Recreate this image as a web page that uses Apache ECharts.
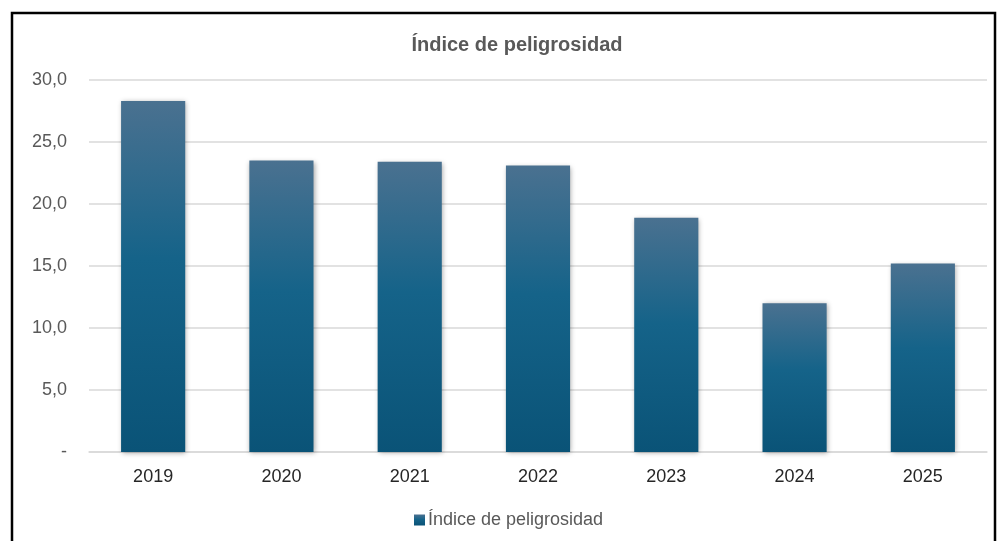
<!DOCTYPE html>
<html><head><meta charset="utf-8">
<script src="https://cdn.jsdelivr.net/npm/echarts@6/dist/echarts.min.js"></script>
<style>html,body{margin:0;padding:0;background:#fff}#c{width:997px;height:541px}</style>
</head><body><div id="c"></div>
<script>
var categories = ['2019','2020','2021','2022','2023','2024','2025'];
var values = [28.3, 23.5, 23.4, 23.1, 18.9, 12.0, 15.2];
var seriesName = 'Índice de peligrosidad';
var titleText = 'Índice de peligrosidad';

var chart = echarts.init(document.getElementById('c'));
var grad = new echarts.graphic.LinearGradient(0,0,0,1,[
  {offset:0,color:'#4a7190'},{offset:0.45,color:'#156389'},{offset:1,color:'#0a5377'}]);
chart.setOption({
  animation:false,
  textStyle:{fontFamily:'Liberation Sans, Arial, sans-serif'},
  graphic:[{type:'rect',shape:{x:12,y:13,width:983,height:560},style:{fill:'none',stroke:'#000',lineWidth:2.5},silent:true}],
  title:{text:titleText,left:512,textAlign:'center',top:30,textStyle:{fontSize:20,fontWeight:'bold',color:'#595959',fontFamily:'Liberation Sans, Arial, sans-serif'}},
  legend:{bottom:7,left:409,itemWidth:11,itemHeight:11,itemGap:4,icon:'rect',
    textStyle:{fontSize:18,color:'#595959',padding:[0,0,0,-2]},data:[seriesName]},
  grid:{left:89,right:10,top:80,bottom:89,containLabel:false},
  xAxis:{type:'category',data:categories,axisTick:{show:false},
    axisLine:{lineStyle:{color:'#d9d9d9',width:1.5}},
    axisLabel:{fontSize:18,color:'#262626',margin:16}},
  yAxis:{type:'value',min:0,max:30,interval:5,
    axisLine:{show:false},axisTick:{show:false},
    splitLine:{lineStyle:{color:'#d9d9d9',width:1.5}},
    axisLabel:{fontSize:18,color:'#595959',margin:22,
      formatter:function(v){return v===0?'-':v.toFixed(1).replace('.',',');}}},
  series:[{name:seriesName,type:'bar',data:values,barWidth:'50%',
    itemStyle:{color:grad,shadowColor:'rgba(0,0,0,0.35)',shadowBlur:5,shadowOffsetX:1,shadowOffsetY:1}}]
});
</script></body></html>
